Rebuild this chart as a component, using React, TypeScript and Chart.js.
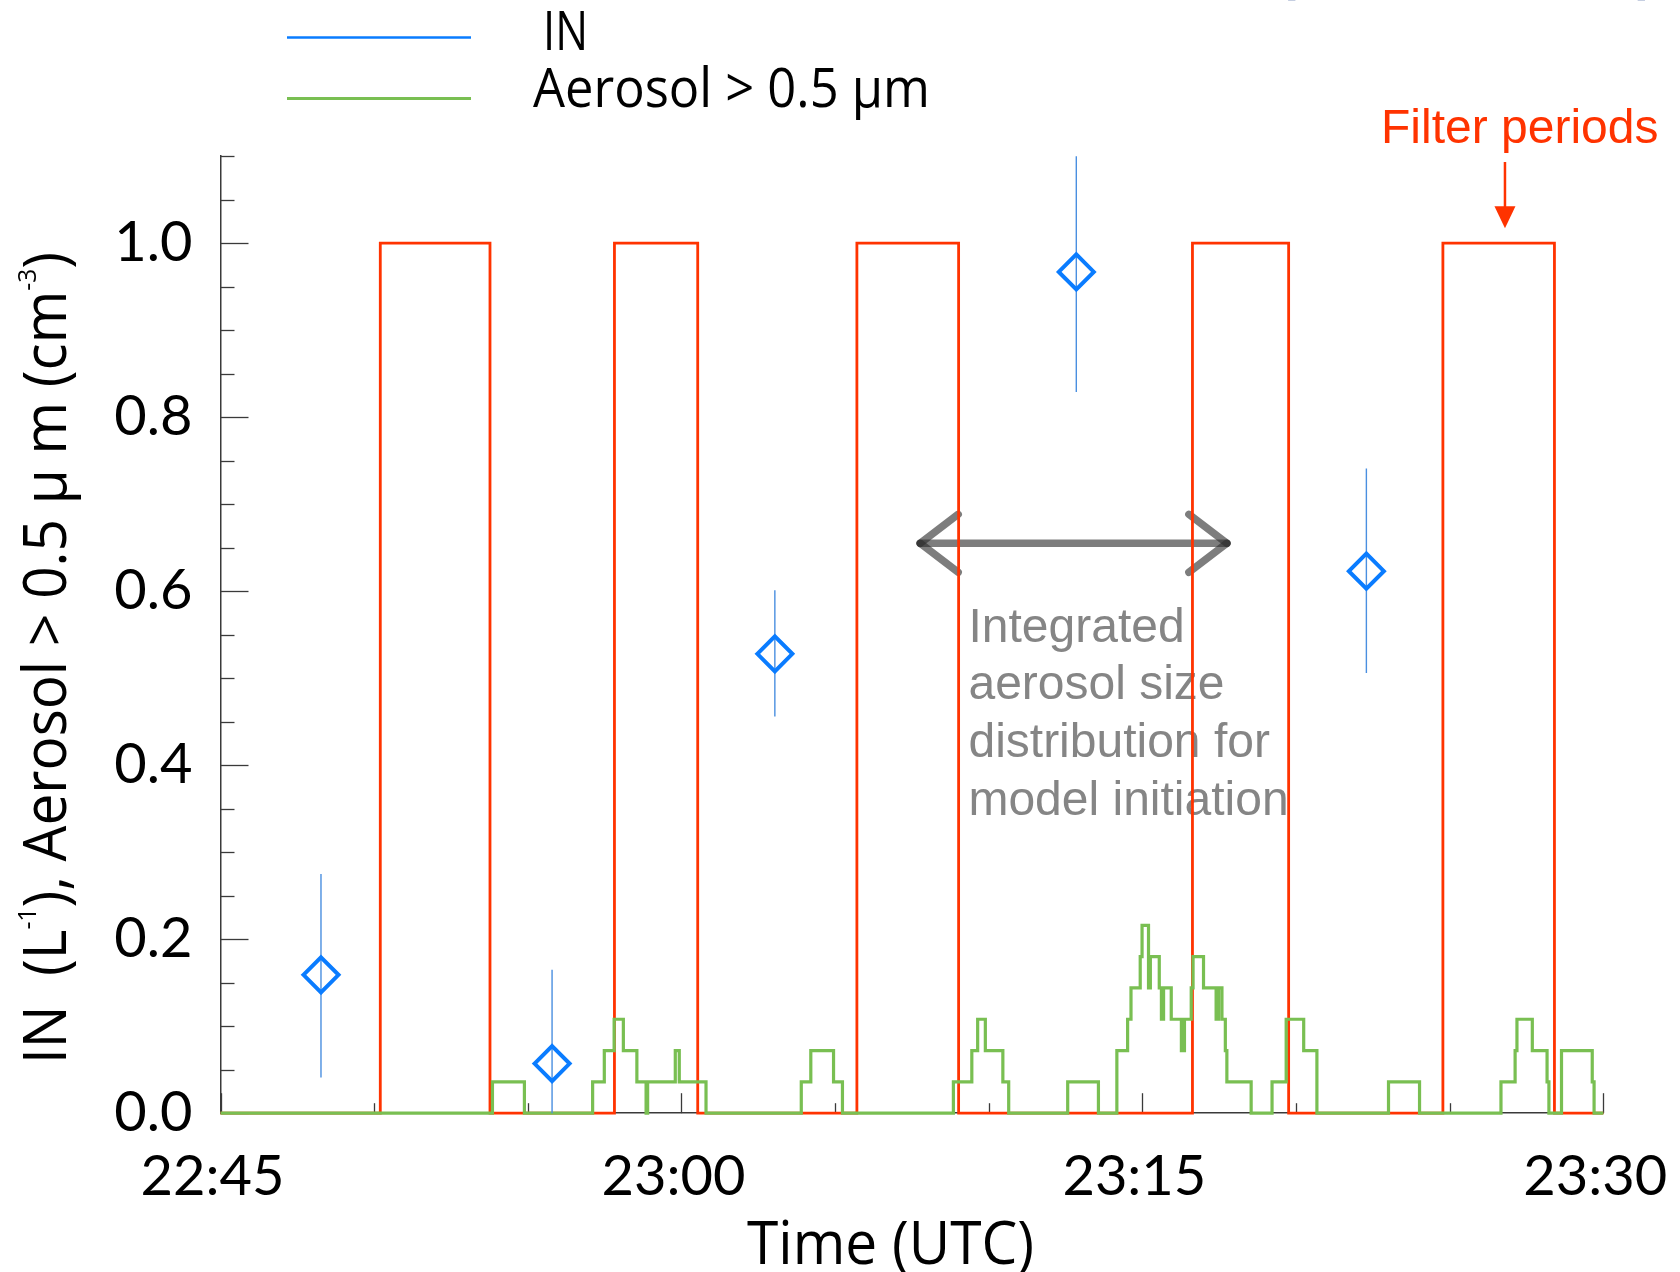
import React, { useEffect, useRef } from 'react';
import { Chart, registerables } from 'chart.js';

Chart.register(...registerables);

// ---------- Data (time in minutes after 22:45 UTC) ----------
const xTickMinutes = [0, 15, 30, 45];
const xTickLabels = ['22:45', '23:00', '23:15', '23:30'];
const xMinorTickMinutes = [0, 5, 10, 15, 20, 25, 30, 35, 40, 45];
const yTickValues = [0, 0.2, 0.4, 0.6, 0.8, 1.0];
const yTickLabels = ['0.0', '0.2', '0.4', '0.6', '0.8', '1.0'];
const yMinorTickValues = [
  0, 0.05, 0.1, 0.15, 0.2, 0.25, 0.3, 0.35, 0.4, 0.45, 0.5, 0.55,
  0.6, 0.65, 0.7, 0.75, 0.8, 0.85, 0.9, 0.95, 1.0, 1.05, 1.1,
];

// Filter periods (red)
const filterStart = [5.2, 12.82, 20.71, 31.63, 39.78];
const filterEnd = [8.77, 15.53, 24.02, 34.76, 43.41];
const filterLevel = [1.0, 1.0, 1.0, 1.0, 1.0];

// IN (blue diamonds with error bars)
const inTime = [3.27, 10.79, 18.04, 27.85, 37.29];
const inValue = [0.159, 0.057, 0.528, 0.967, 0.623];
const inLow = [0.041, 0.0, 0.456, 0.829, 0.506];
const inHigh = [0.275, 0.165, 0.601, 1.1, 0.741];

// Aerosol > 0.5 um (green step series: value holds from time[i] to time[i+1])
const aerosolTime = [
  0, 8.85, 9.89, 12.11, 12.49, 12.81, 13.11, 13.55, 13.85, 13.9, 14.8, 14.93,
  15.8, 18.9, 19.21, 19.95, 20.24, 23.85, 24.45, 24.64, 24.89, 25.46, 25.65,
  27.57, 28.57, 29.17, 29.52, 29.63, 29.93, 29.99, 30.2, 30.26, 30.55, 30.62,
  30.69, 30.94, 31.27, 31.37, 31.59, 31.65, 31.99, 32.4, 32.48, 32.59, 32.7,
  32.75, 33.54, 34.22, 34.68, 35.25, 35.68, 38.01, 39.02, 41.67, 42.13, 42.19,
  42.69, 43.17, 43.23, 43.64, 44.64, 44.7, 45,
];
const aerosolValue = [
  0, 0.036, 0, 0.036, 0.072, 0.108, 0.072, 0.036, 0, 0.036, 0.072, 0.036,
  0, 0.036, 0.072, 0.036, 0, 0.036, 0.072, 0.108, 0.072, 0.036, 0,
  0.036, 0, 0.072, 0.108, 0.144, 0.18, 0.216, 0.144, 0.18, 0.144, 0.108,
  0.144, 0.108, 0.072, 0.108, 0.144, 0.18, 0.144, 0.108, 0.144, 0.108, 0.072,
  0.036, 0, 0.036, 0.108, 0.072, 0, 0.036, 0, 0.036, 0.072, 0.108,
  0.072, 0.036, 0, 0.072, 0.036, 0, 0,
];

// Annotation anchors (data coordinates)
const spanArrowFrom = 22.77;
const spanArrowTo = 32.75;
const spanArrowLevel = 0.655;
const noteLines = ['Integrated', 'aerosol size', 'distribution for', 'model initiation'];
const noteTime = 24.34;
const noteLevel = 0.542;
const filterNote = 'Filter periods';
const filterArrowTime = 41.8;

const legendLabels = ['IN', 'Aerosol > 0.5 μm'];

// ---------- Styles ----------
const RED = '#ff3300';
const GREEN = '#79bf52';
const BLUE = '#0a7cff';
const ERR_BLUE = '#4a8fe0';
const AXIS = '#3a3a3a';

function fitText(ctx: any, text: string, x: number, y: number, width: number, font: string, color: string) {
  ctx.save();
  ctx.font = font;
  ctx.fillStyle = color;
  ctx.textAlign = 'left';
  ctx.textBaseline = 'alphabetic';
  const w = ctx.measureText(text).width;
  ctx.translate(x, y);
  ctx.scale(width / w, 1);
  ctx.fillText(text, 0, 0);
  ctx.restore();
}

function drawRuns(ctx: any, runs: any[], family: string, width: number) {
  let total = 0;
  const ws = runs.map((r) => {
    ctx.font = `${r.size}px ${family}`;
    const w = ctx.measureText(r.text).width;
    total += w;
    return w;
  });
  ctx.scale(width / total, 1);
  let cx = 0;
  runs.forEach((r, i) => {
    ctx.font = `${r.size}px ${family}`;
    ctx.fillText(r.text, cx, r.dy);
    cx += ws[i];
  });
}

const extrasPlugin = {
  id: 'extras',
  beforeDatasetsDraw(chart: any) {
    const { ctx, chartArea, scales } = chart;
    const x = scales.x;
    const y = scales.y;
    ctx.save();
    // inward ticks
    ctx.strokeStyle = AXIS;
    ctx.lineWidth = 1.3;
    yMinorTickValues.forEach((v) => {
      const py = Math.round(y.getPixelForValue(v)) + 0.5;
      const major = yTickValues.some((t) => Math.abs(t - v) < 1e-6);
      ctx.beginPath();
      ctx.moveTo(chartArea.left, py);
      ctx.lineTo(chartArea.left + (major ? 28 : 14), py);
      ctx.stroke();
    });
    xMinorTickMinutes.forEach((m) => {
      const px = Math.round(x.getPixelForValue(m)) + 0.5;
      const major = xTickMinutes.includes(m);
      ctx.beginPath();
      ctx.moveTo(px, chartArea.bottom);
      ctx.lineTo(px, chartArea.bottom - (major ? 20 : 10));
      ctx.stroke();
    });

    // annotation text
    ctx.fillStyle = '#858585';
    ctx.font = '48px "Liberation Sans", Arial, sans-serif';
    ctx.textAlign = 'left';
    ctx.textBaseline = 'alphabetic';
    const tx = x.getPixelForValue(noteTime);
    const ty = y.getPixelForValue(noteLevel);
    noteLines.forEach((line, i) => ctx.fillText(line, tx, ty + i * 57.8));

    // double-headed gray arrow
    const ax1 = x.getPixelForValue(spanArrowFrom);
    const ax2 = x.getPixelForValue(spanArrowTo);
    const ay = y.getPixelForValue(spanArrowLevel);
    ctx.strokeStyle = 'rgba(45,45,45,0.62)';
    ctx.lineWidth = 7.5;
    ctx.lineCap = 'round';
    const seg = (a: number, b: number, c: number, d: number) => {
      ctx.beginPath();
      ctx.moveTo(a, b);
      ctx.lineTo(c, d);
      ctx.stroke();
    };
    seg(ax1, ay, ax2, ay);
    seg(ax1, ay, ax1 + 38, ay - 29);
    seg(ax1, ay, ax1 + 38, ay + 29);
    seg(ax2, ay, ax2 - 38, ay - 29);
    seg(ax2, ay, ax2 - 38, ay + 29);
    ctx.restore();
  },
  afterDraw(chart: any) {
    const { ctx, scales } = chart;
    const x = scales.x;
    const y = scales.y;
    const ds = chart.data.datasets;
    ctx.save();

    // legend
    ctx.lineCap = 'butt';
    ctx.strokeStyle = ds[0].pointBorderColor;
    ctx.lineWidth = 2.5;
    ctx.beginPath();
    ctx.moveTo(287, 37.5);
    ctx.lineTo(471, 37.5);
    ctx.stroke();
    ctx.strokeStyle = ds[2].borderColor;
    ctx.lineWidth = 3;
    ctx.beginPath();
    ctx.moveTo(287, 98.5);
    ctx.lineTo(471, 98.5);
    ctx.stroke();
    fitText(ctx, legendLabels[0], 543, 50, 45, '54px "Open Sans", sans-serif', '#000');
    fitText(ctx, legendLabels[1], 533, 106.5, 397, '54px "Open Sans", sans-serif', '#000');

    // "Filter periods" label + arrow
    ctx.fillStyle = RED;
    ctx.font = '48px "Liberation Sans", Arial, sans-serif';
    ctx.textAlign = 'left';
    ctx.textBaseline = 'alphabetic';
    ctx.fillText(filterNote, 1381, 143);
    const fx = x.getPixelForValue(filterArrowTime);
    const tipY = y.getPixelForValue(1.0) - 15;
    ctx.strokeStyle = RED;
    ctx.lineWidth = 2.5;
    ctx.beginPath();
    ctx.moveTo(fx, 162);
    ctx.lineTo(fx, tipY - 18);
    ctx.stroke();
    ctx.beginPath();
    ctx.moveTo(fx - 10.5, tipY - 22);
    ctx.lineTo(fx + 10.5, tipY - 22);
    ctx.lineTo(fx, tipY);
    ctx.closePath();
    ctx.fill();

    // x-axis title
    fitText(ctx, 'Time (UTC)', 747, 1264, 287, '60px "Open Sans", sans-serif', '#000');

    // y-axis title (rotated, with superscripts)
    ctx.save();
    ctx.fillStyle = '#000';
    ctx.textAlign = 'left';
    ctx.textBaseline = 'alphabetic';
    ctx.translate(66, 1064);
    ctx.rotate(-Math.PI / 2);
    drawRuns(
      ctx,
      [
        { text: 'IN  (L', size: 60, dy: 0 },
        { text: '-1', size: 26, dy: -30 },
        { text: '), Aerosol > 0.5 μ m (cm', size: 60, dy: 0 },
        { text: '-3', size: 26, dy: -30 },
        { text: ')', size: 60, dy: 0 },
      ],
      '"Open Sans", sans-serif',
      812
    );
    ctx.restore();

    // cut-off title parentheses at the very top
    ctx.fillStyle = '#1d3f8a';
    ctx.font = 'bold 60px "Open Sans", sans-serif';
    ctx.textAlign = 'left';
    ctx.fillText('(', 1277, -9);
    ctx.textAlign = 'right';
    ctx.fillText(')', 1656, -9);
    ctx.restore();
  },
};

export default function App() {
  const ref = useRef<HTMLCanvasElement | null>(null);

  useEffect(() => {
    const canvas = ref.current;
    if (!canvas) return;

    const filterPoints: any[] = [{ x: xTickMinutes[0], y: 0 }];
    filterStart.forEach((s, i) => {
      filterPoints.push({ x: s, y: 0 }, { x: s, y: filterLevel[i] }, { x: filterEnd[i], y: filterLevel[i] }, { x: filterEnd[i], y: 0 });
    });
    filterPoints.push({ x: xTickMinutes[xTickMinutes.length - 1], y: 0 });

    const aerosolPoints = aerosolTime.map((t, i) => ({ x: t, y: aerosolValue[i] }));
    const inPoints = inTime.map((t, i) => ({ x: t, y: inValue[i] }));
    const errPoints: any[] = [];
    inTime.forEach((t, i) => {
      errPoints.push({ x: t, y: inLow[i] }, { x: t, y: inHigh[i] }, { x: t, y: null });
    });

    const chart = new Chart(canvas, {
      type: 'line',
      data: {
        datasets: [
          {
            label: 'IN',
            data: inPoints,
            showLine: false,
            pointStyle: 'rectRot',
            pointRadius: 17.5,
            pointHoverRadius: 17.5,
            pointBorderWidth: 4,
            pointBorderColor: BLUE,
            pointBackgroundColor: 'rgba(0,0,0,0)',
            clip: false,
          } as any,
          {
            label: 'IN error',
            data: errPoints,
            borderColor: ERR_BLUE,
            borderWidth: 1.4,
            pointRadius: 0,
            spanGaps: false,
            tension: 0,
            clip: false,
          },
          {
            label: 'Aerosol > 0.5 μm',
            data: aerosolPoints,
            borderColor: GREEN,
            borderWidth: 3.2,
            pointRadius: 0,
            stepped: true,
            tension: 0,
            borderJoinStyle: 'miter',
            clip: false,
          } as any,
          {
            label: 'Filter periods',
            data: filterPoints,
            borderColor: RED,
            borderWidth: 2.8,
            pointRadius: 0,
            tension: 0,
            borderJoinStyle: 'miter',
            clip: false,
          } as any,
        ],
      },
      options: {
        responsive: false,
        animation: false,
        devicePixelRatio: 1,
        layout: { padding: { left: 0, top: 156.2, right: 76.7, bottom: 0 } },
        plugins: { legend: { display: false }, tooltip: { enabled: false } },
        scales: {
          x: {
            type: 'linear',
            min: 0,
            max: 45,
            afterBuildTicks: (s: any) => {
              s.ticks = xTickMinutes.map((v) => ({ value: v }));
            },
            afterFit: (s: any) => {
              s.height = 158.8;
              s.paddingLeft = 0;
              s.paddingRight = 0;
            },
            grid: { display: false, drawTicks: false },
            border: { display: true, color: AXIS, width: 1.5 },
            ticks: {
              autoSkip: false,
              maxRotation: 0,
              padding: 30,
              labelOffset: -8,
              color: '#000',
              font: { family: 'Lato', size: 56 },
              callback: (_v: any, i: number) => xTickLabels[i],
            },
          },
          y: {
            type: 'linear',
            min: 0,
            max: 1.1,
            afterBuildTicks: (s: any) => {
              s.ticks = yTickValues.map((v) => ({ value: v }));
            },
            afterFit: (s: any) => {
              s.width = 220.5;
              s.paddingTop = 0;
              s.paddingBottom = 0;
            },
            grid: { display: false, drawTicks: false },
            border: { display: true, color: AXIS, width: 1.5 },
            ticks: {
              padding: 28,
              color: '#000',
              font: { family: 'Lato', size: 56 },
              callback: (_v: any, i: number) => yTickLabels[i],
            },
          },
        },
      } as any,
      plugins: [extrasPlugin],
    });

    return () => chart.destroy();
  }, []);

  return (
    <div style={{ position: 'fixed', left: 0, top: 0, width: 1680, height: 1272, background: '#fff' }}>
      <canvas ref={ref} width={1680} height={1272} style={{ display: 'block', width: 1680, height: 1272 }} />
    </div>
  );
}
